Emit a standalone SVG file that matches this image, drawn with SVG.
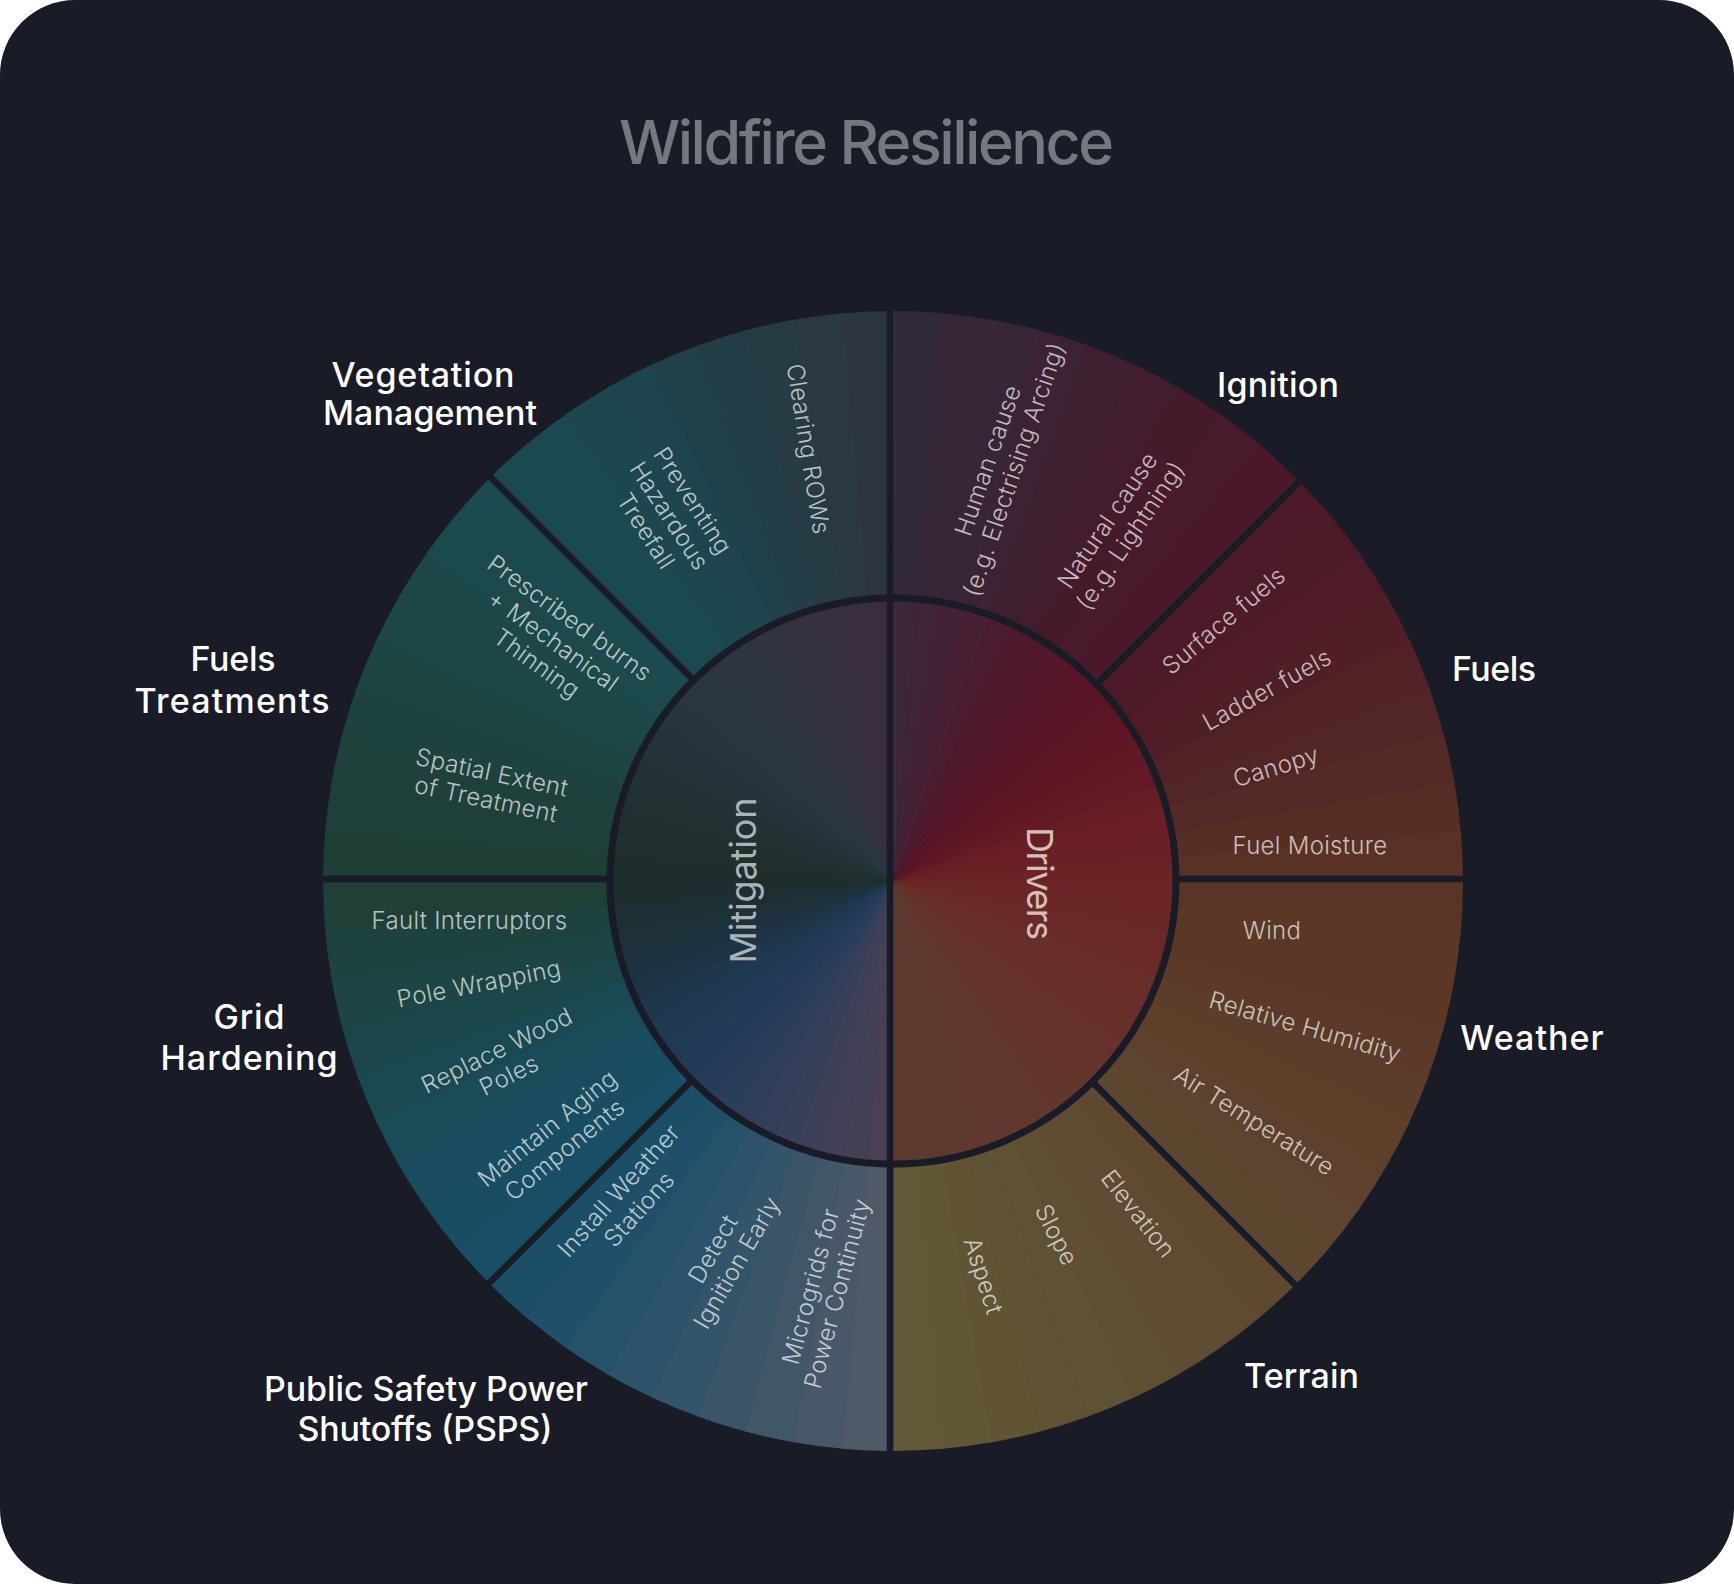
<svg xmlns="http://www.w3.org/2000/svg" width="1734" height="1584" viewBox="0 0 1734 1584">
<style>
.h{font-family:Inter,"Liberation Sans",sans-serif;font-weight:500;font-size:34px;fill:#ffffff;text-anchor:middle}
.s{font-family:Inter,"Liberation Sans",sans-serif;font-weight:300;font-size:24px;letter-spacing:.3px;fill:#ffffff;fill-opacity:.7;text-anchor:middle}
.c{font-family:Inter,"Liberation Sans",sans-serif;font-weight:400;font-size:36px;text-anchor:middle}
.d{stroke:#191b27;stroke-width:6.5;fill:none}
</style>
<defs>
<path id="rw" d="M0 0V-570A570 570 0 0 1 51.66 -567.65Z"/>
<path id="iw" d="M0 0V-284A284 284 0 0 1 25.74 -282.83Z"/>
</defs>
<rect width="1734" height="1584" fill="#ffffff"/>
<rect width="1734" height="1584" rx="75" fill="#191b27"/>
<g id="title">
<text x="619" y="164" textLength="495" style="font-family:Inter,'Liberation Sans',sans-serif;font-weight:500;font-size:61px;fill:#76787f">Wildfire Resilience</text>
</g>
<g id="node-ignition">
<g transform="translate(893 881)">
<use href="#rw" transform="rotate(0)" fill="#312937"/><use href="#rw" transform="rotate(5)" fill="#352736"/><use href="#rw" transform="rotate(10)" fill="#382535"/><use href="#rw" transform="rotate(15)" fill="#3c2333"/><use href="#rw" transform="rotate(20)" fill="#3f2031"/><use href="#rw" transform="rotate(25)" fill="#421d2e"/><use href="#rw" transform="rotate(30)" fill="#451b2c"/><use href="#rw" transform="rotate(35)" fill="#481a2b"/><use href="#rw" transform="rotate(40)" fill="#4a1929"/>
</g>
<text class="h" x="1278" y="396.5" textLength="122">Ignition</text>
<text class="s" transform="translate(1001 465) rotate(-71)"><tspan x="0" y="-5.5">Human cause</tspan><tspan x="0" y="22">(e.g. Electrising Arcing)</tspan></text>
<text class="s" transform="translate(1119 528) rotate(-56)"><tspan x="0" y="-5.5">Natural cause</tspan><tspan x="0" y="22">(e.g. Lightning)</tspan></text>
</g>
<g id="node-fuels">
<g transform="translate(893 881)">
<use href="#rw" transform="rotate(45)" fill="#4c1928"/><use href="#rw" transform="rotate(50)" fill="#4d1a27"/><use href="#rw" transform="rotate(55)" fill="#4e1b26"/><use href="#rw" transform="rotate(60)" fill="#4f1e26"/><use href="#rw" transform="rotate(65)" fill="#512226"/><use href="#rw" transform="rotate(70)" fill="#532626"/><use href="#rw" transform="rotate(75)" fill="#552a26"/><use href="#rw" transform="rotate(80)" fill="#572e26"/><use href="#rw" transform="rotate(85)" fill="#593225"/>
</g>
<text class="h" x="1494" y="681" textLength="84">Fuels</text>
<text class="s" transform="translate(1224 621) rotate(-40)" y="8">Surface fuels</text>
<text class="s" transform="translate(1267 690) rotate(-29)" y="8">Ladder fuels</text>
<text class="s" transform="translate(1276 767) rotate(-17)" y="8">Canopy</text>
<text class="s" x="1310" y="854">Fuel Moisture</text>
</g>
<g id="node-weather">
<g transform="translate(893 881)">
<use href="#rw" transform="rotate(90)" fill="#5a3525"/><use href="#rw" transform="rotate(95)" fill="#5b3726"/><use href="#rw" transform="rotate(100)" fill="#5b3826"/><use href="#rw" transform="rotate(105)" fill="#5b3a27"/><use href="#rw" transform="rotate(110)" fill="#5c3d29"/><use href="#rw" transform="rotate(115)" fill="#5d3f2a"/><use href="#rw" transform="rotate(120)" fill="#5d412c"/><use href="#rw" transform="rotate(125)" fill="#5e442e"/><use href="#rw" transform="rotate(130)" fill="#5e472f"/>
</g>
<text class="h" x="1532" y="1049.5" textLength="143.5">Weather</text>
<text class="s" x="1272" y="938.5">Wind</text>
<text class="s" transform="translate(1305 1027) rotate(16)" y="8">Relative Humidity</text>
<text class="s" transform="translate(1254 1121) rotate(32)" y="8">Air Temperature</text>
</g>
<g id="node-terrain">
<g transform="translate(893 881)">
<use href="#rw" transform="rotate(135)" fill="#5e4930"/><use href="#rw" transform="rotate(140)" fill="#5e4b31"/><use href="#rw" transform="rotate(145)" fill="#5e4d32"/><use href="#rw" transform="rotate(150)" fill="#5e4f32"/><use href="#rw" transform="rotate(155)" fill="#5f5133"/><use href="#rw" transform="rotate(160)" fill="#605234"/><use href="#rw" transform="rotate(165)" fill="#605434"/><use href="#rw" transform="rotate(170)" fill="#615635"/><use href="#rw" transform="rotate(175)" fill="#625736"/>
</g>
<text class="h" x="1301.5" y="1388" textLength="115">Terrain</text>
<text class="s" transform="translate(1138 1214) rotate(52)" y="8">Elevation</text>
<text class="s" transform="translate(1056 1235) rotate(63)" y="8">Slope</text>
<text class="s" transform="translate(983 1276) rotate(72)" y="8">Aspect</text>
</g>
<g id="node-psps">
<g transform="translate(893 881)">
<use href="#rw" transform="rotate(180)" fill="#4f5968"/><use href="#rw" transform="rotate(185)" fill="#485868"/><use href="#rw" transform="rotate(190)" fill="#415768"/><use href="#rw" transform="rotate(195)" fill="#3a5568"/><use href="#rw" transform="rotate(200)" fill="#335469"/><use href="#rw" transform="rotate(205)" fill="#2c536a"/><use href="#rw" transform="rotate(210)" fill="#25516a"/><use href="#rw" transform="rotate(215)" fill="#205069"/><use href="#rw" transform="rotate(220)" fill="#1b4f68"/>
</g>
<text class="h" x="426" y="1400.5" textLength="324">Public Safety Power</text>
<text class="h" x="425" y="1441" textLength="255">Shutoffs (PSPS)</text>
<text class="s" transform="translate(824 1290) rotate(-75)"><tspan x="0" y="-5.5">Microgrids for</tspan><tspan x="0" y="22">Power Continuity</tspan></text>
<text class="s" transform="translate(725 1256) rotate(-60)"><tspan x="0" y="-5.5">Detect</tspan><tspan x="0" y="22">Ignition Early</tspan></text>
<text class="s" transform="translate(629 1200) rotate(-48)"><tspan x="0" y="-5.5">Install Weather</tspan><tspan x="0" y="22">Stations</tspan></text>
</g>
<g id="node-grid-hardening">
<g transform="translate(893 881)">
<use href="#rw" transform="rotate(225)" fill="#184e66"/><use href="#rw" transform="rotate(230)" fill="#184d62"/><use href="#rw" transform="rotate(235)" fill="#184c5e"/><use href="#rw" transform="rotate(240)" fill="#194b58"/><use href="#rw" transform="rotate(245)" fill="#1a4951"/><use href="#rw" transform="rotate(250)" fill="#1b474a"/><use href="#rw" transform="rotate(255)" fill="#1d4543"/><use href="#rw" transform="rotate(260)" fill="#1e423d"/><use href="#rw" transform="rotate(265)" fill="#1f3f37"/>
</g>
<text class="h" x="249" y="1028.5" textLength="71">Grid</text>
<text class="h" x="249" y="1070" textLength="177">Hardening</text>
<text class="s" x="469.5" y="929">Fault Interruptors</text>
<text class="s" transform="translate(479 984) rotate(-11)" y="8">Pole Wrapping</text>
<text class="s" transform="translate(503 1063) rotate(-26)"><tspan x="0" y="-5.5">Replace Wood</tspan><tspan x="0" y="22">Poles</tspan></text>
<text class="s" transform="translate(556 1139) rotate(-39)"><tspan x="0" y="-5.5">Maintain Aging</tspan><tspan x="0" y="22">Components</tspan></text>
</g>
<g id="node-fuels-treatments">
<g transform="translate(893 881)">
<use href="#rw" transform="rotate(270)" fill="#1f3f35"/><use href="#rw" transform="rotate(275)" fill="#1f4038"/><use href="#rw" transform="rotate(280)" fill="#1e413b"/><use href="#rw" transform="rotate(285)" fill="#1e433e"/><use href="#rw" transform="rotate(290)" fill="#1d4542"/><use href="#rw" transform="rotate(295)" fill="#1c4746"/><use href="#rw" transform="rotate(300)" fill="#1c4849"/><use href="#rw" transform="rotate(305)" fill="#1c494c"/><use href="#rw" transform="rotate(310)" fill="#1b4a4f"/>
</g>
<text class="h" x="233" y="671" textLength="85">Fuels</text>
<text class="h" x="232" y="713" textLength="195">Treatments</text>
<text class="s" transform="translate(553 641) rotate(36)"><tspan x="0" y="-20">Prescribed burns</tspan><tspan x="0" y="8">+ Mechanical</tspan><tspan x="0" y="36">Thinning</tspan></text>
<text class="s" transform="translate(489 786) rotate(12)"><tspan x="0" y="-5.5">Spatial Extent</tspan><tspan x="0" y="22">of Treatment</tspan></text>
</g>
<g id="node-vegetation-management">
<g transform="translate(893 881)">
<use href="#rw" transform="rotate(315)" fill="#1b4950"/><use href="#rw" transform="rotate(320)" fill="#1c484f"/><use href="#rw" transform="rotate(325)" fill="#1c474e"/><use href="#rw" transform="rotate(330)" fill="#1e444d"/><use href="#rw" transform="rotate(335)" fill="#21414a"/><use href="#rw" transform="rotate(340)" fill="#243e47"/><use href="#rw" transform="rotate(345)" fill="#273b45"/><use href="#rw" transform="rotate(350)" fill="#2a3843"/><use href="#rw" transform="rotate(355)" fill="#2d3541"/>
</g>
<text class="h" x="423" y="387" textLength="183">Vegetation</text>
<text class="h" x="430" y="425" textLength="214">Management</text>
<text class="s" transform="translate(808 449) rotate(81)" y="8">Clearing ROWs</text>
<text class="s" transform="translate(669 516) rotate(57)"><tspan x="0" y="-20">Preventing</tspan><tspan x="0" y="8">Hazardous</tspan><tspan x="0" y="36">Treefall</tspan></text>
</g>
<g id="node-drivers">
<g transform="translate(893 881)">
<use href="#iw" transform="rotate(0)" fill="#3c2839"/><use href="#iw" transform="rotate(5)" fill="#402537"/><use href="#iw" transform="rotate(10)" fill="#442235"/><use href="#iw" transform="rotate(15)" fill="#481f33"/><use href="#iw" transform="rotate(20)" fill="#4b1c30"/><use href="#iw" transform="rotate(25)" fill="#4e192d"/><use href="#iw" transform="rotate(30)" fill="#51172b"/><use href="#iw" transform="rotate(35)" fill="#541629"/><use href="#iw" transform="rotate(40)" fill="#571527"/><use href="#iw" transform="rotate(45)" fill="#591426"/><use href="#iw" transform="rotate(50)" fill="#5c1525"/><use href="#iw" transform="rotate(55)" fill="#5f1624"/><use href="#iw" transform="rotate(60)" fill="#611724"/><use href="#iw" transform="rotate(65)" fill="#641a24"/><use href="#iw" transform="rotate(70)" fill="#671d24"/><use href="#iw" transform="rotate(75)" fill="#691f24"/><use href="#iw" transform="rotate(80)" fill="#6a2125"/><use href="#iw" transform="rotate(85)" fill="#6b2326"/><use href="#iw" transform="rotate(90)" fill="#6c2526"/><use href="#iw" transform="rotate(95)" fill="#6b2727"/><use href="#iw" transform="rotate(100)" fill="#6a2928"/><use href="#iw" transform="rotate(105)" fill="#6a2b28"/><use href="#iw" transform="rotate(110)" fill="#692d29"/><use href="#iw" transform="rotate(115)" fill="#682f2a"/><use href="#iw" transform="rotate(120)" fill="#67312a"/><use href="#iw" transform="rotate(125)" fill="#66322b"/><use href="#iw" transform="rotate(130)" fill="#65332c"/><use href="#iw" transform="rotate(135)" fill="#64352c"/><use href="#iw" transform="rotate(140)" fill="#63362d"/><use href="#iw" transform="rotate(145)" fill="#62372e"/><use href="#iw" transform="rotate(150)" fill="#61372e"/><use href="#iw" transform="rotate(155)" fill="#60382f"/><use href="#iw" transform="rotate(160)" fill="#5f3930"/><use href="#iw" transform="rotate(165)" fill="#5e3930"/><use href="#iw" transform="rotate(170)" fill="#5d3a30"/><use href="#iw" transform="rotate(175)" fill="#5c3a30"/>
</g>
<text class="c" transform="translate(1027 883.4) rotate(90)" textLength="113" fill="#d5bfbb">Drivers</text>
</g>
<g id="node-mitigation">
<g transform="translate(893 881)">
<use href="#iw" transform="rotate(180)" fill="#4a4055"/><use href="#iw" transform="rotate(185)" fill="#464056"/><use href="#iw" transform="rotate(190)" fill="#424057"/><use href="#iw" transform="rotate(195)" fill="#3d4058"/><use href="#iw" transform="rotate(200)" fill="#383f59"/><use href="#iw" transform="rotate(205)" fill="#333e5a"/><use href="#iw" transform="rotate(210)" fill="#2e3e5a"/><use href="#iw" transform="rotate(215)" fill="#2a3d59"/><use href="#iw" transform="rotate(220)" fill="#263c58"/><use href="#iw" transform="rotate(225)" fill="#233b57"/><use href="#iw" transform="rotate(230)" fill="#213a54"/><use href="#iw" transform="rotate(235)" fill="#1f3951"/><use href="#iw" transform="rotate(240)" fill="#1e374c"/><use href="#iw" transform="rotate(245)" fill="#1e3445"/><use href="#iw" transform="rotate(250)" fill="#1e313e"/><use href="#iw" transform="rotate(255)" fill="#1e3038"/><use href="#iw" transform="rotate(260)" fill="#1e2f33"/><use href="#iw" transform="rotate(265)" fill="#1e2e2e"/><use href="#iw" transform="rotate(270)" fill="#1e2e2d"/><use href="#iw" transform="rotate(275)" fill="#1f2f2e"/><use href="#iw" transform="rotate(280)" fill="#20302f"/><use href="#iw" transform="rotate(285)" fill="#213132"/><use href="#iw" transform="rotate(290)" fill="#223235"/><use href="#iw" transform="rotate(295)" fill="#233338"/><use href="#iw" transform="rotate(300)" fill="#25343b"/><use href="#iw" transform="rotate(305)" fill="#27353d"/><use href="#iw" transform="rotate(310)" fill="#29363f"/><use href="#iw" transform="rotate(315)" fill="#2b3640"/><use href="#iw" transform="rotate(320)" fill="#2d3541"/><use href="#iw" transform="rotate(325)" fill="#2f3442"/><use href="#iw" transform="rotate(330)" fill="#313342"/><use href="#iw" transform="rotate(335)" fill="#333241"/><use href="#iw" transform="rotate(340)" fill="#353140"/><use href="#iw" transform="rotate(345)" fill="#372f40"/><use href="#iw" transform="rotate(350)" fill="#382e3f"/><use href="#iw" transform="rotate(355)" fill="#392d3e"/>
</g>
<text class="c" transform="translate(756 880.5) rotate(-90)" textLength="166" fill="#aab4b6">Mitigation</text>
</g>
<g id="connectors">
<line class="d" x1="890" y1="290" x2="890" y2="1475"/>
<line class="d" x1="300" y1="879" x2="609" y2="879"/>
<line class="d" x1="1176" y1="879" x2="1490" y2="879"/>
<line class="d" x1="1097" y1="683.8" x2="1310" y2="470.8"/>
<line class="d" x1="1094" y1="1083.6" x2="1310" y2="1299.6"/>
<line class="d" x1="692" y1="678.6" x2="476" y2="462.6"/>
<line class="d" x1="692" y1="1080.3" x2="476" y2="1296.3"/>
<circle cx="893" cy="881" r="283" fill="none" stroke="#191b27" stroke-width="7"/>
</g>
</svg>
